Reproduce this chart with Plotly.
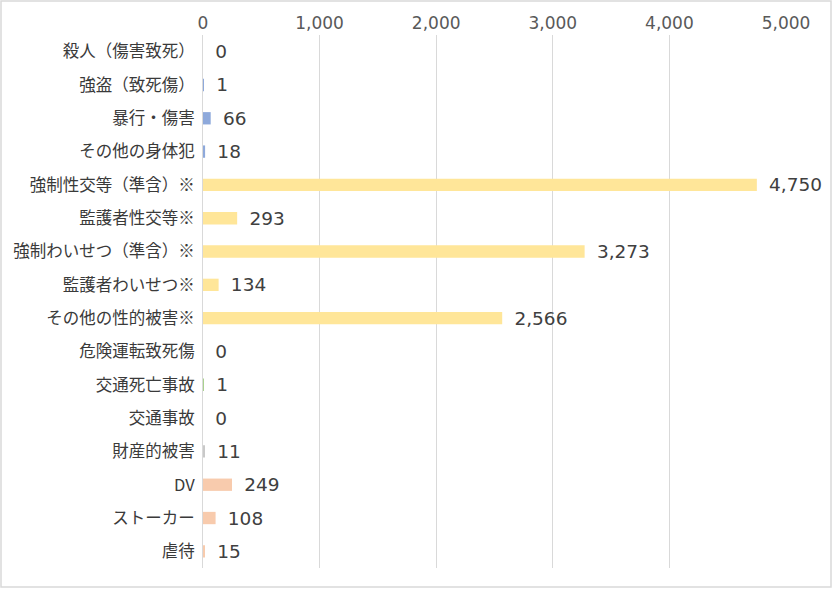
import plotly.graph_objects as go

categories = ["殺人（傷害致死）", "強盗（致死傷）", "暴行・傷害", "その他の身体犯",
              "強制性交等（準含）※", "監護者性交等※", "強制わいせつ（準含）※", "監護者わいせつ※",
              "その他の性的被害※", "危険運転致死傷", "交通死亡事故", "交通事故",
              "財産的被害", "DV", "ストーカー", "虐待"]
values = [0, 1, 66, 18, 4750, 293, 3273, 134, 2566, 0, 1, 0, 11, 249, 108, 15]
groups = ["body"] * 4 + ["sex"] * 5 + ["traffic"] * 3 + ["property"] + ["dv"] * 3
tick_vals = [0, 1000, 2000, 3000, 4000, 5000]
tick_text = ["0", "1,000", "2,000", "3,000", "4,000", "5,000"]

group_colors = {"body": "#8EA9DB", "sex": "#FFE699", "traffic": "#A9D18E",
                "property": "#C9C9C9", "dv": "#F8CBAD"}
colors = [group_colors[g] for g in groups]
labels = ["\u2002" + f"{v:,}" for v in values]

fig = go.Figure(go.Bar(
    x=values, y=categories, orientation="h",
    marker=dict(color=colors, line=dict(width=0)),
    width=0.37,
    text=labels, textposition="outside", cliponaxis=False, constraintext="none",
    textfont=dict(size=18.5, color="#404040", family="DejaVu Sans"),
    hoverinfo="x+y",
))

W, H = 833, 589
ml, mr, mt, mb = 203, 47, 35, 21
pw, ph = W - ml - mr, H - mt - mb

fig.update_layout(
    width=W, height=H,
    margin=dict(l=ml, r=mr, t=mt, b=mb, pad=0),
    paper_bgcolor="white", plot_bgcolor="white",
    font=dict(family="Noto Sans CJK JP", size=16, color="#595959"),
    showlegend=False,
    xaxis=dict(range=[0, 5000], side="top", tickvals=tick_vals, ticktext=tick_text,
               showgrid=True, gridcolor="#D9D9D9", gridwidth=1, zeroline=False,
               showline=False, ticks="",
               tickfont=dict(size=17, color="#595959", family="DejaVu Sans"),
               ticklabelstandoff=2, fixedrange=True),
    yaxis=dict(categoryorder="array", categoryarray=categories, autorange="reversed",
               showgrid=False, zeroline=False, showline=True, linecolor="#D9D9D9",
               linewidth=1, ticks="", tickfont=dict(size=16.5, color="#3A3A3A"),
               ticklabelstandoff=4, fixedrange=True),
    shapes=[dict(type="rect", xref="paper", yref="paper",
                 x0=(1 - ml) / pw, x1=(W - 2 - ml) / pw,
                 y0=(H - mb - (H - 2)) / ph, y1=(H - mb - 1) / ph,
                 line=dict(color="#D9D9D9", width=1.5), fillcolor="rgba(0,0,0,0)",
                 layer="below")],
)

fig.write_html("out.html", config={"displayModeBar": False},
               post_script="document.documentElement.style.margin='0';"
                           "document.body.style.margin='0';"
                           "document.body.style.overflow='hidden';")
